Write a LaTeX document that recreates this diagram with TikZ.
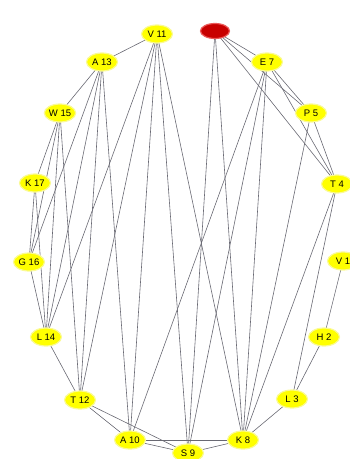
\documentclass[tikz,border=0pt]{standalone}
\usepackage{fontspec}
\setmainfont{Liberation Sans}
\usetikzlibrary{shapes.geometric}
\pgfdeclarelayer{bg}
\pgfsetlayers{bg,main}
\definecolor{edgegray}{RGB}{105,105,115}
\definecolor{nodeyellow}{RGB}{255,255,0}
\definecolor{glowyellow}{RGB}{250,250,150}
\definecolor{nodered}{RGB}{200,0,0}
\definecolor{glowred}{RGB}{235,90,90}
\tikzset{
  vnode/.style={ellipse, fill=nodeyellow, draw=glowyellow, line width=1.2pt,
    minimum width=31pt, minimum height=18pt, inner sep=0pt, font=\fontsize{9.5}{10}\selectfont},
  rnode/.style={ellipse, fill=nodered, draw=glowred, line width=1.2pt,
    minimum width=29pt, minimum height=15pt, inner sep=0pt},
  link/.style={draw=edgegray, line width=0.6pt}
}
\begin{document}
\begin{tikzpicture}[x=1pt,y=-1pt]
\useasboundingbox (0,0) rectangle (350,459);
\node[rnode] (n6) at (215,31) {};
\node[vnode] (n11) at (157,34) {V 11};
\node[vnode] (n7) at (267,62) {E 7};
\node[vnode] (n13) at (102,62) {A 13};
\node[vnode] (n5) at (311,113) {P 5};
\node[vnode] (n15) at (60,113) {W 15};
\node[vnode] (n17) at (35,183) {K 17};
\node[vnode] (n4) at (337,184) {T 4};
\node[vnode] (n16) at (29,262) {G 16};
\node[vnode] (n1) at (343,261) {V 1};
\node[vnode] (n14) at (46,337) {L 14};
\node[vnode] (n2) at (324,337) {H 2};
\node[vnode] (n12) at (80,400) {T 12};
\node[vnode] (n3) at (292,399) {L 3};
\node[vnode] (n10) at (130,440) {A 10};
\node[vnode] (n8) at (243,440) {K 8};
\node[vnode] (n9) at (188,453) {S 9};
\begin{pgfonlayer}{bg}
\foreach \a/\b in {6/7,6/5,6/4,6/9,6/8,
  7/5,7/4,7/10,7/9,7/8,
  5/4,5/8,
  4/3,4/8,
  1/2,2/3,3/8,
  8/9,8/10,8/11,
  9/10,9/12,9/11,
  10/12,10/13,10/11,
  12/14,12/15,12/13,12/11,
  14/16,14/17,14/15,14/13,14/11,
  16/17,16/15,16/13,
  17/15,15/13,13/11}
  \draw[link] (n\a.center) -- (n\b.center);
\end{pgfonlayer}
\end{tikzpicture}
\end{document}
